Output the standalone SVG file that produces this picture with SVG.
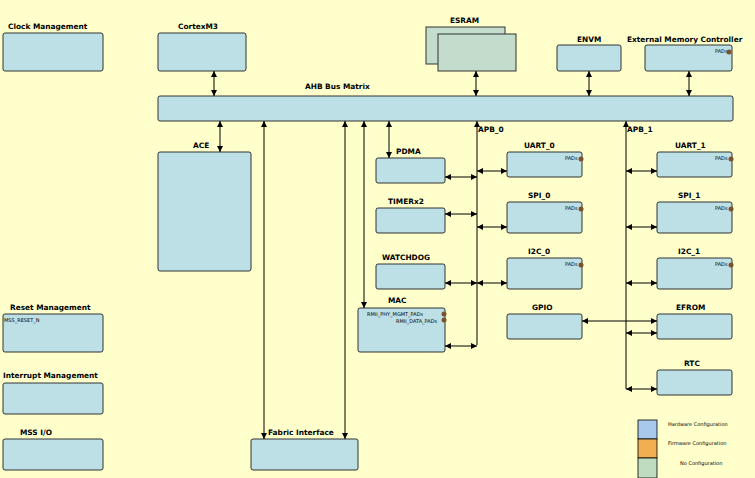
<svg xmlns="http://www.w3.org/2000/svg" width="755" height="478" viewBox="0 0 755 478">
<defs>
<marker id="a" viewBox="0 0 8 8" refX="8" refY="4" markerWidth="6" markerHeight="6" orient="auto-start-reverse"><path d="M0,0L8,4L0,8z" fill="#000"/></marker>
<style>
.b{fill:#bde0e6;stroke:#333;stroke-width:1}
.t{font-family:"DejaVu Sans",sans-serif;font-size:7.4px;font-weight:bold;fill:#000}
.s{font-family:"DejaVu Sans",sans-serif;font-size:5px;fill:#000}
.c line{stroke:#000;stroke-width:1;marker-start:url(#a);marker-end:url(#a)}
.c line.e{marker-start:none}
</style>
</defs>
<rect width="755" height="478" fill="#ffffcc"/>
<g id="clock"><rect class="b" x="3" y="33" width="100" height="38" rx="2"/><text class="t" x="8" y="29">Clock Management</text></g>
<g id="cortex"><rect class="b" x="158" y="33" width="88" height="38" rx="2"/><text class="t" x="178" y="29">CortexM3</text></g>
<g id="esram"><rect class="b" x="426" y="27" width="79" height="37" style="fill:#c3dccc"/><rect class="b" x="438" y="34" width="78" height="37" style="fill:#c3dccc"/><text class="t" x="450" y="23">ESRAM</text></g>
<g id="envm"><rect class="b" x="557" y="45" width="64" height="26" rx="2"/><text class="t" x="577" y="42">ENVM</text></g>
<g id="emc"><rect class="b" x="645" y="45" width="87" height="26" rx="2"/><text class="t" x="627" y="42">External Memory Controller</text><text class="s" x="715" y="53">PADs</text><circle cx="729" cy="52" r="2.5" fill="#7a5230"/></g>
<g id="ahb"><rect class="b" x="158" y="96" width="575" height="25" rx="2"/><text class="t" x="305" y="89">AHB Bus Matrix</text></g>
<g id="ace"><rect class="b" x="158" y="152" width="93" height="119" rx="2"/><text class="t" x="193" y="148">ACE</text></g>
<g id="pdma"><rect class="b" x="376" y="158" width="69" height="25" rx="2"/><text class="t" x="396" y="154">PDMA</text></g>
<g id="timer"><rect class="b" x="376" y="208" width="69" height="25" rx="2"/><text class="t" x="388" y="204">TIMERx2</text></g>
<g id="wd"><rect class="b" x="376" y="264" width="69" height="25" rx="2"/><text class="t" x="382" y="260">WATCHDOG</text></g>
<g id="mac"><rect class="b" x="358" y="308" width="87" height="44" rx="2"/><text class="t" x="388" y="303">MAC</text><text class="s" x="367" y="316">RMII_PHY_MGMT_PADs</text><text class="s" x="396" y="323">RMII_DATA_PADs</text><circle cx="444" cy="314" r="2.5" fill="#7a5230"/><circle cx="444" cy="320" r="2.5" fill="#7a5230"/></g>
<g id="uart0"><rect class="b" x="507" y="152" width="75" height="25" rx="2"/><text class="t" x="524" y="148">UART_0</text><text class="s" x="565" y="160">PADs</text><circle cx="581" cy="159" r="2.5" fill="#7a5230"/></g>
<g id="spi0"><rect class="b" x="507" y="202" width="75" height="31" rx="2"/><text class="t" x="528" y="198">SPI_0</text><text class="s" x="565" y="210">PADs</text><circle cx="581" cy="209" r="2.5" fill="#7a5230"/></g>
<g id="i2c0"><rect class="b" x="507" y="258" width="75" height="31" rx="2"/><text class="t" x="528" y="254">I2C_0</text><text class="s" x="565" y="266">PADs</text><circle cx="581" cy="265" r="2.5" fill="#7a5230"/></g>
<g id="gpio"><rect class="b" x="507" y="314" width="75" height="25" rx="2"/><text class="t" x="532" y="310">GPIO</text></g>
<g id="uart1"><rect class="b" x="657" y="152" width="75" height="25" rx="2"/><text class="t" x="675" y="148">UART_1</text><text class="s" x="715" y="160">PADs</text><circle cx="731" cy="159" r="2.5" fill="#7a5230"/></g>
<g id="spi1"><rect class="b" x="657" y="202" width="75" height="31" rx="2"/><text class="t" x="678" y="198">SPI_1</text><text class="s" x="715" y="210">PADs</text><circle cx="731" cy="209" r="2.5" fill="#7a5230"/></g>
<g id="i2c1"><rect class="b" x="657" y="258" width="75" height="31" rx="2"/><text class="t" x="678" y="254">I2C_1</text><text class="s" x="715" y="266">PADs</text><circle cx="731" cy="265" r="2.5" fill="#7a5230"/></g>
<g id="efrom"><rect class="b" x="657" y="314" width="75" height="25" rx="2"/><text class="t" x="676" y="310">EFROM</text></g>
<g id="rtc"><rect class="b" x="657" y="370" width="75" height="25" rx="2"/><text class="t" x="684" y="366">RTC</text></g>
<g id="reset"><rect class="b" x="3" y="314" width="100" height="38" rx="2"/><text class="t" x="10" y="310">Reset Management</text><text class="s" x="4" y="322">MSS_RESET_N</text></g>
<g id="intr"><rect class="b" x="3" y="383" width="100" height="31" rx="2"/><text class="t" x="3" y="378">Interrupt Management</text></g>
<g id="mssio"><rect class="b" x="3" y="439" width="100" height="31" rx="2"/><text class="t" x="20" y="435">MSS I/O</text></g>
<g id="fabric"><rect class="b" x="251" y="439" width="107" height="31" rx="2"/><text class="t" x="268" y="435">Fabric Interface</text></g>
<g id="legend">
<rect x="638" y="420" width="19" height="19" fill="#a8c8ec" stroke="#000" stroke-width="0.8"/>
<rect x="638" y="439" width="19" height="19" fill="#f0b050" stroke="#000" stroke-width="0.8"/>
<rect x="638" y="458" width="19" height="20" fill="#c0dcc0" stroke="#000" stroke-width="0.8"/>
<text class="s" x="668" y="426">Hardware Configuration</text>
<text class="s" x="668" y="445">Firmware Configuration</text>
<text class="s" x="680" y="465">No Configuration</text>
</g>
<g class="c">
<line x1="214" y1="71" x2="214" y2="96"/>
<line x1="476" y1="71" x2="476" y2="96"/>
<line x1="589" y1="71" x2="589" y2="96"/>
<line x1="689" y1="71" x2="689" y2="96"/>
<line x1="220" y1="121" x2="220" y2="152"/>
<line x1="264" y1="121" x2="264" y2="439"/>
<line x1="345" y1="121" x2="345" y2="439"/>
<line x1="364" y1="121" x2="364" y2="308"/>
<line x1="389" y1="121" x2="389" y2="158"/>
<line class="e" x1="477" y1="345" x2="477" y2="121"/>
<line x1="445" y1="177" x2="477" y2="177"/>
<line x1="445" y1="214" x2="477" y2="214"/>
<line x1="445" y1="283" x2="477" y2="283"/>
<line x1="445" y1="346" x2="477" y2="346"/>
<line x1="477" y1="171" x2="507" y2="171"/>
<line x1="477" y1="227" x2="507" y2="227"/>
<line x1="477" y1="283" x2="507" y2="283"/>
<line x1="582" y1="321" x2="657" y2="321"/>
<line class="e" x1="626" y1="389" x2="626" y2="121"/>
<line x1="626" y1="171" x2="657" y2="171"/>
<line x1="626" y1="227" x2="657" y2="227"/>
<line x1="626" y1="283" x2="657" y2="283"/>
<line x1="626" y1="333" x2="657" y2="333"/>
<line x1="626" y1="389" x2="657" y2="389"/>
</g>
<text class="t" x="478" y="132">APB_0</text>
<text class="t" x="627" y="132">APB_1</text>
</svg>
